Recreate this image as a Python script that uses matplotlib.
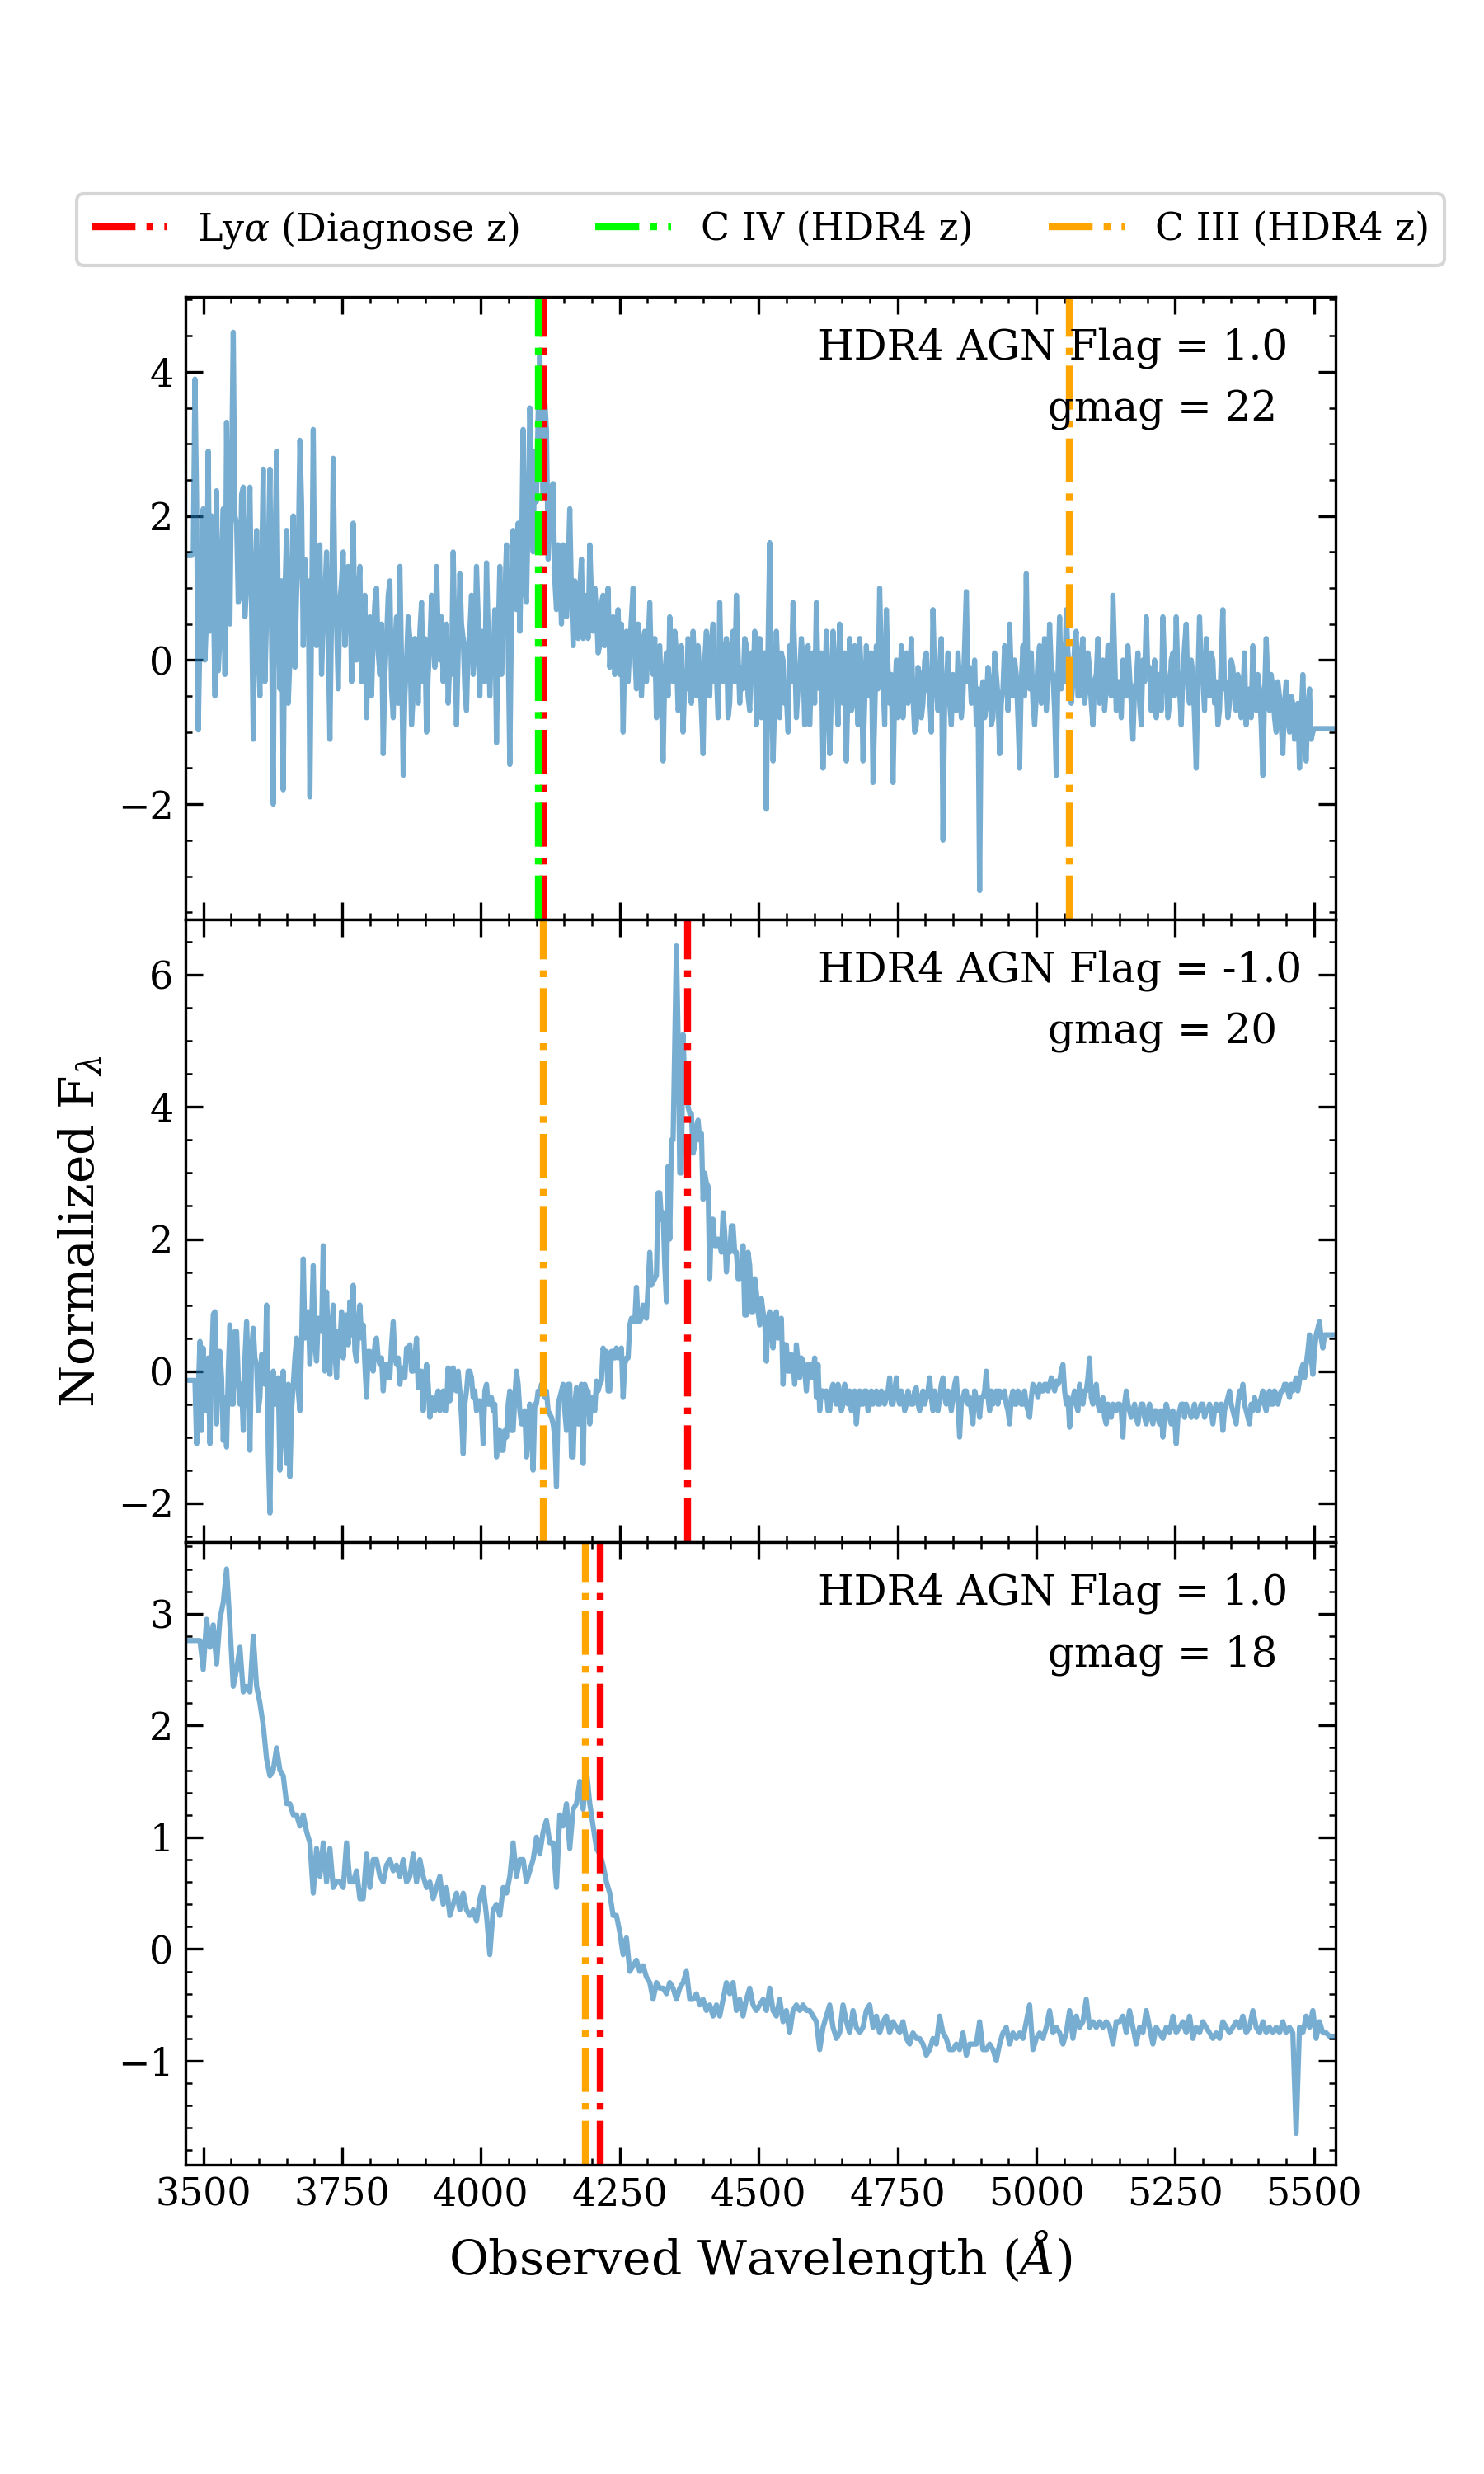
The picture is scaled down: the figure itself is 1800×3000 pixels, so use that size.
import numpy as np
import matplotlib
matplotlib.use("Agg")
import matplotlib.pyplot as plt
from matplotlib.ticker import MultipleLocator, AutoMinorLocator

plt.rcParams['font.family'] = ['DejaVu Serif']
plt.rcParams['mathtext.fontset'] = 'dejavuserif'
plt.rcParams['font.size'] = 11

# ---------------- data: normalized flux, 3470-5540 A ----------------
wave_min, wave_max = 3470.0, 5540.0

# top panel, ~3 A sampling
flux_top = [
    1.45, 1.45, 1.45, 1.45, 1.5, 3.9, 2.2, -0.97, 0.3, 1.4, 2.1, 0.0, 0.6, 2.9, 0.4, 2.0, 1.1, -0.5, 2.35, -0.15,
    0.3, 1.4, 2.1, -0.2, 3.3, 0.9, 0.5, 2.6, 4.55, 2.0, 1.9, 0.8, 0.9, 2.3, 2.4, 0.6, 1.0, 1.7, 2.4, 0.7,
    -1.1, 0.9, 1.8, 0.2, -0.5, 1.2, 2.65, -0.3, 0.6, 1.4, 2.65, 0.3, -2.0, 1.5, 2.9, 0.7, -0.4, 1.1, -1.8, 0.9,
    1.8, -0.6, 0.0, 1.2, 2.0, -0.1, 0.9, 1.5, 3.05, 2.2, 0.2, 1.4, 0.7, 1.1, -1.9, 0.5, 3.2, 0.8, 0.2, 1.3,
    1.6, -0.2, 0.5, 0.9, 1.5, 0.3, -1.1, 0.6, 2.8, 1.0, 0.5, -0.4, 0.8, 1.1, 1.5, 0.2, 0.6, 1.3, 1.2, -0.3,
    1.9, 0.4, 0.0, 0.9, 1.3, -0.3, 0.4, 0.9, -0.8, 0.2, 0.6, -0.5, 0.3, 0.8, 1.0, 0.1, -0.2, 0.5, -1.3, -0.2,
    0.3, 0.9, 1.1, -0.4, -0.8, 0.2, 0.6, -0.6, 1.3, 0.0, -1.6, -0.5, 0.0, 0.6, 0.3, -0.9, -0.5, 0.3, 0.2, -0.6,
    0.4, 0.8, -0.3, 0.3, -1.0, -0.2, 0.2, 0.9, 0.5, -0.1, 1.3, 0.4, 0.0, 0.6, -0.3, 0.2, 0.5, -0.6, 0.0, -0.2,
    1.5, 0.3, -0.9, 0.1, 1.2, 0.5, 0.3, -0.4, -0.7, 0.2, 0.4, 0.9, -0.2, 0.1, 1.3, 0.6, -0.5, 0.4, 0.2, -0.3,
    1.35, 0.4, -0.5, 0.2, 0.0, 0.7, -1.15, 0.3, 1.3, -0.2, 0.5, 0.9, 1.6, 0.2, -1.45, 0.6, 1.8, 1.0, 0.7, 1.9,
    0.4, 1.4, 3.2, 1.0, 0.8, 2.0, 3.5, 2.6, 1.5, 2.9, 2.2, 3.4, 4.3, 3.0, 2.3, 3.6, 3.2, 1.4, 1.9, 2.4,
    2.45, 1.1, 0.7, 1.6, 1.2, 0.5, 1.6, 1.0, 0.6, 1.3, 2.1, 0.9, 0.2, 1.1, 0.8, 0.3, 1.0, 1.4, 0.3, 0.9,
    0.75, 0.3, 1.6, 0.9, 0.4, 1.0, 0.7, 0.1, 0.2, 0.8, 0.9, 0.2, 0.5, 1.0, -0.1, 0.4, 0.6, -0.2, 0.3, 0.7,
    -0.2, 0.5, -1.0, 0.1, 0.4, -0.3, 0.2, 0.6, 1.0, 0.1, -0.4, 0.5, 0.3, -0.5, 0.0, 0.4, -0.3, 0.2, 0.8, -0.1,
    -0.2, 0.3, -0.8, -0.3, 0.2, -0.6, -1.4, -0.2, 0.1, -0.5, 0.6, 0.0, -0.3, 0.4, 0.1, -0.7, -0.6, 0.2, -1.0, -0.3,
    -0.4, 0.3, 0.2, -0.6, 0.4, -0.1, -0.5, 0.2, -0.2, -0.7, -1.3, 0.0, 0.4, -0.4, -0.5, 0.3, 0.5, -0.3, -0.2, -0.8,
    0.8, -0.2, -0.3, 0.1, 0.3, -0.8, -0.6, 0.2, 0.4, -0.3, 0.9, 0.1, -0.6, -0.1, -0.4, 0.3, 0.2, -0.5, -0.7, 0.1,
    -0.3, 0.4, -0.9, -0.2, 0.3, -0.8, -0.5, 0.1, -2.07, 0.2, 1.63, -0.3, -1.4, -0.6, 0.4, -0.2, -0.8, 0.1, 0.0, -0.6,
    -0.5, -1.0, 0.2, -0.3, 0.8, 0.1, -0.8, -0.4, -0.2, 0.3, 0.0, -0.9, -0.5, 0.2, -0.9, -0.3, 0.1, -0.6, 0.8, -0.2,
    -0.4, 0.1, -1.5, -0.6, 0.4, -0.3, -1.3, -0.5, 0.4, 0.0, -0.3, -0.9, 0.5, -0.2, -0.6, 0.1, -1.4, -0.4, 0.3, -0.7,
    -0.6, 0.2, -0.4, -0.9, 0.3, -0.2, -1.4, -0.6, 0.2, -0.3, -0.5, 0.1, -1.7, -0.8, 0.2, -0.4, 1.0, 0.0, -0.3, -0.9,
    0.7, -0.1, -0.6, -0.2, -1.7, -0.5, 0.0, -0.8, -0.5, 0.2, -0.8, -0.3, 0.1, -0.6, -0.2, 0.3, -0.5, -1.0, -0.9, -0.1,
    -0.2, -0.8, -0.6, 0.0, 0.1, -0.4, -0.5, -1.0, 0.7, -0.2, -0.4, -0.7, -0.1, 0.3, -2.5, -0.6, -0.3, 0.1, -0.6, -0.9,
    -0.2, -0.5, -0.7, 0.1, -0.3, -0.8, -0.5, 0.2, 0.95, -0.3, -0.1, -0.6, -0.4, 0.0, -0.9, -0.4, -3.2, -0.5, -0.3, -0.8,
    -0.6, -0.1, -0.3, -0.9, -0.8, 0.1, -0.2, -0.5, -1.3, -0.6, -0.4, 0.2, 0.0, -0.7, 0.5, -0.2, -0.5, 0.0, -0.2, -0.8,
    -1.5, -0.3, 0.2, -0.5, 1.2, -0.2, -0.4, 0.1, -0.6, -0.9, -0.5, 0.0, 0.2, -0.6, -0.2, 0.3, -0.7, -0.3, 0.5, -0.1,
    -0.2, -0.7, -1.6, -0.2, 0.6, -0.4, 0.2, -0.3, 0.7, 0.1, -0.1, -0.6, -0.3, 0.2, 0.4, -0.5, -0.5, 0.1, 0.3, -0.6,
    -0.4, 0.1, -0.1, -0.6, -0.9, -0.3, -0.2, 0.3, -0.6, -0.2, 0.0, -0.7, -0.4, 0.2, 0.2, -0.5, 0.9, 0.1, -0.7, -0.3,
    -0.3, -0.8, 0.0, -0.4, -0.5, 0.2, -0.2, -0.6, -1.1, -0.4, -0.3, 0.1, -0.6, -0.9, 0.0, -0.3, 0.6, -0.2, -0.1, -0.7,
    -0.5, 0.0, -0.8, -0.3, -0.2, -0.7, 0.6, -0.1, -0.3, -0.8, -0.6, 0.0, 0.1, -0.5, 0.6, -0.2, -0.4, -0.9, -0.2, 0.2,
    0.5, -0.4, -0.6, 0.0, -0.2, -0.8, -1.5, -0.3, 0.6, -0.1, -0.3, -0.7, 0.3, -0.2, -0.5, 0.1, 0.0, -0.6, -0.3, -0.9,
    -0.7, 0.0, 0.7, -0.4, -0.3, -0.8, -0.6, 0.0, -0.1, -0.5, -0.7, -0.2, -0.3, -0.8, -0.5, 0.1, -0.9, -0.5, -0.4, -0.8,
    0.2, -0.5, -0.7, -0.2, -0.4, -0.9, -1.6, -0.5, 0.3, -0.3, -0.7, -0.2, -0.4, -0.8, -1.0, -0.3, -0.5, -0.9, -1.3, -0.6,
    -0.3, -0.8, -1.0, -0.5, -0.6, -1.1, -1.0, -0.6, -1.5, -0.8, -0.2, -0.9, -1.4, -0.7, -0.4, -1.1, -1.0, -0.95, -0.95, -0.95,
    -0.95, -0.95, -0.95, -0.95, -0.95, -0.95, -0.95, -0.95, -0.95, -0.95, -0.95,
]

# middle panel, ~3 A sampling
flux_mid = [
    -0.14, -0.14, -0.14, -0.14, -0.14, -0.14, -1.1, -0.3, 0.45, -0.9, 0.35, -0.6, -0.6, 0.2, -1.1, 0.1, 0.86, 0.9, -0.8, 0.3,
    0.3, -0.1, -1.05, -0.4, -1.15, 0.0, 0.7, -0.5, -0.5, 0.6, 0.6, -0.1, -0.5, -0.2, -0.9, 0.2, 0.75, 0.0, -1.2, 0.3,
    0.65, 0.2, 0.1, -0.6, -0.4, 0.25, 0.25, -0.2, 1.0, -1.2, -2.15, -0.4, 0.0, -0.5, -0.5, -0.1, -1.5, -0.6, 0.0, -0.9,
    -1.4, -0.2, -1.6, -0.6, -0.2, 0.2, 0.5, -0.3, -0.6, 0.4, 1.7, 0.5, 0.6, 0.9, 0.1, 0.7, 1.6, 0.4, 0.15, 0.8,
    0.7, 0.6, 1.9, 0.0, 1.2, 0.4, -0.05, 0.6, 1.0, 0.3, -0.1, 0.6, 0.4, 0.9, 0.2, 0.6, 0.85, 0.4, 1.05, 0.55,
    1.3, 0.3, 0.15, 0.7, 1.0, 0.5, 0.7, 0.1, -0.4, 0.3, 0.3, 0.1, 0.0, 0.4, 0.5, 0.2, 0.1, 0.2, -0.3, 0.1,
    0.1, -0.1, -0.1, 0.4, 0.75, 0.2, 0.1, 0.2, -0.2, 0.0, 0.05, -0.1, 0.35, 0.2, 0.4, 0.0, 0.0, 0.2, 0.5, -0.25,
    -0.1, 0.0, -0.6, -0.2, 0.1, -0.2, -0.7, -0.4, -0.5, -0.6, -0.4, -0.3, -0.6, -0.45, -0.3, -0.6, -0.6, 0.05, -0.45, -0.3,
    0.05, -0.2, -0.3, 0.0, -0.3, -0.7, -1.25, -0.5, -0.3, 0.0, 0.0, -0.1, -0.4, -0.3, -0.6, -0.45, -0.45, -0.6, -1.1, -0.3,
    -0.2, -0.5, -0.5, -0.4, -0.6, -0.5, -1.3, -0.9, -0.9, -1.2, -1.2, -0.9, -1.0, -0.5, -0.3, -0.9, -0.9, -0.4, 0.0, -0.2,
    -0.6, -0.8, -0.8, -0.6, -1.3, -1.0, -0.5, -0.9, -1.5, -0.5, -0.5, -0.3, -0.35, -0.2, -0.3, -0.4, -0.3, -0.6, -0.65, -0.7,
    -0.8, -1.0, -1.75, -0.5, -0.4, -0.3, -0.2, -0.6, -0.9, -0.2, -0.2, -1.3, -1.3, -0.5, -0.25, -0.8, -0.8, -0.2, -1.4, -0.2,
    -0.3, -0.3, -0.8, -0.4, -0.5, -0.6, -0.15, -0.3, -0.2, -0.15, 0.35, 0.2, 0.3, -0.3, -0.3, 0.3, 0.3, 0.2, 0.35, 0.2,
    0.3, 0.35, -0.4, 0.1, 0.2, 0.2, 0.7, 0.8, 0.8, 0.75, 1.27, 0.75, 0.75, 0.8, 1.0, 0.85, 0.8, 1.3, 1.8, 1.3,
    1.35, 1.4, 1.45, 2.7, 2.7, 2.3, 2.4, 1.6, 1.05, 3.1, 2.0, 3.5, 3.5, 5.0, 6.44, 5.1, 3.0, 3.0, 5.1, 4.3,
    4.3, 4.0, 3.9, 3.9, 3.3, 3.4, 3.7, 3.8, 3.5, 3.6, 2.6, 3.0, 2.85, 2.8, 1.4, 2.3, 2.3, 1.9, 1.9, 2.0,
    1.9, 1.8, 2.4, 2.1, 1.5, 1.9, 1.8, 2.2, 2.2, 1.8, 1.8, 1.4, 1.4, 1.5, 1.9, 0.85, 0.85, 1.8, 1.6, 0.9,
    0.9, 1.4, 1.2, 0.9, 0.7, 1.1, 0.9, 0.75, 0.15, 0.8, 0.9, 0.6, 0.35, 0.8, 0.9, 0.5, 0.6, 0.8, -0.2, 0.4,
    0.4, 0.0, 0.0, 0.25, 0.1, -0.2, 0.4, 0.15, -0.1, 0.2, 0.15, 0.0, -0.3, 0.1, 0.1, -0.1, 0.0, 0.2, -0.4, 0.1,
    -0.6, -0.3, -0.3, -0.4, -0.3, -0.6, -0.6, -0.3, -0.2, -0.4, -0.5, -0.2, -0.3, -0.6, -0.5, -0.2, -0.4, -0.5, -0.3, -0.6,
    -0.4, -0.3, -0.8, -0.5, -0.3, -0.5, -0.5, -0.3, -0.3, -0.6, -0.5, -0.3, -0.5, -0.4, -0.3, -0.5, -0.5, -0.3, -0.35, -0.5,
    -0.4, -0.3, -0.1, -0.5, -0.5, -0.3, -0.1, -0.4, -0.5, -0.3, -0.4, -0.6, -0.5, -0.3, -0.4, -0.5, -0.5, -0.3, -0.25, -0.5,
    -0.6, -0.4, -0.3, -0.5, -0.4, -0.3, -0.1, -0.4, -0.6, -0.3, -0.5, -0.6, -0.4, -0.2, -0.1, -0.4, -0.5, -0.3, -0.4, -0.6,
    -0.4, -0.2, -0.1, -0.5, -1.0, -0.5, -0.4, -0.3, -0.3, -0.5, -0.4, -0.6, -0.8, -0.3, -0.4, -0.5, -0.7, -0.4, -0.4, -0.3,
    0.0, -0.4, -0.6, -0.3, -0.5, -0.4, -0.3, -0.5, -0.3, -0.4, -0.4, -0.3, -0.5, -0.6, -0.8, -0.4, -0.3, -0.5, -0.5, -0.3,
    -0.35, -0.5, -0.5, -0.3, -0.5, -0.6, -0.7, -0.4, -0.2, -0.3, -0.25, -0.4, -0.2, -0.3, -0.3, -0.2, -0.2, -0.3, -0.2, -0.1,
    -0.2, -0.3, -0.15, -0.2, -0.15, 0.0, 0.1, -0.3, -0.5, -0.4, -0.85, -0.5, -0.4, -0.3, -0.5, -0.6, -0.2, -0.4, -0.5, -0.3,
    -0.3, -0.1, 0.2, -0.4, -0.5, -0.3, -0.2, -0.5, -0.6, -0.5, -0.4, -0.7, -0.8, -0.5, -0.6, -0.7, -0.5, -0.6, -0.6, -0.5,
    -0.5, -0.6, -1.0, -0.5, -0.3, -0.5, -0.6, -0.7, -0.6, -0.5, -0.7, -0.8, -0.6, -0.5, -0.5, -0.7, -0.8, -0.6, -0.5, -0.7,
    -0.8, -0.6, -0.6, -0.7, -0.8, -0.6, -1.0, -0.7, -0.5, -0.6, -0.7, -0.8, -0.6, -0.7, -1.1, -0.7, -0.6, -0.5, -0.5, -0.7,
    -0.5, -0.6, -0.6, -0.7, -0.6, -0.5, -0.7, -0.6, -0.6, -0.5, -0.5, -0.7, -0.6, -0.6, -0.5, -0.6, -0.8, -0.6, -0.5, -0.6,
    -0.6, -0.5, -0.9, -0.6, -0.5, -0.4, -0.3, -0.5, -0.6, -0.7, -0.8, -0.5, -0.3, -0.4, -0.2, -0.5, -0.6, -0.7, -0.8, -0.5,
    -0.6, -0.4, -0.5, -0.6, -0.5, -0.4, -0.3, -0.5, -0.6, -0.4, -0.3, -0.5, -0.5, -0.3, -0.35, -0.5, -0.4, -0.3, -0.3, -0.2,
    -0.2, -0.3, -0.4, -0.2, -0.3, -0.2, -0.1, -0.3, -0.15, 0.0, 0.1, -0.1, 0.1, 0.3, 0.55, 0.2, -0.05, 0.3, 0.55, 0.65,
    0.75, 0.5, 0.35, 0.55, 0.55, 0.55, 0.55, 0.55, 0.55, 0.55, 0.55,
]

# bottom panel, ~6 A sampling
flux_bot = [
    2.76, 2.76, 2.76, 2.76, 2.76, 2.5, 2.95, 2.7, 2.9, 2.55,
    2.95, 3.1, 3.4, 2.9, 2.35, 2.5, 2.7, 2.3, 2.35, 2.3,
    2.8, 2.35, 2.2, 2.0, 1.7, 1.55, 1.6, 1.8, 1.6, 1.55,
    1.3, 1.3, 1.2, 1.2, 1.1, 1.2, 1.05, 0.95, 0.5, 0.9,
    0.65, 0.95, 0.6, 0.9, 0.55, 0.6, 0.6, 0.55, 0.95, 0.6,
    0.6, 0.7, 0.45, 0.45, 0.85, 0.55, 0.8, 0.8, 0.65, 0.6,
    0.75, 0.8, 0.7, 0.75, 0.65, 0.8, 0.6, 0.65, 0.85, 0.6,
    0.8, 0.65, 0.55, 0.6, 0.45, 0.55, 0.65, 0.4, 0.55, 0.3,
    0.4, 0.5, 0.35, 0.5, 0.35, 0.3, 0.35, 0.25, 0.45, 0.55,
    0.3, -0.05, 0.35, 0.4, 0.3, 0.55, 0.5, 0.65, 0.95, 0.65,
    0.8, 0.8, 0.6, 0.7, 0.8, 1.0, 0.85, 1.05, 1.15, 0.95,
    0.95, 0.55, 1.2, 1.1, 1.3, 0.9, 1.25, 1.3, 1.5, 1.25,
    1.6, 1.3, 1.1, 0.9, 0.85, 0.75, 0.6, 0.5, 0.3, 0.3,
    0.15, -0.05, 0.1, -0.2, -0.15, -0.1, -0.2, -0.15, -0.25, -0.3,
    -0.45, -0.3, -0.35, -0.35, -0.4, -0.3, -0.35, -0.45, -0.35, -0.3,
    -0.2, -0.45, -0.45, -0.4, -0.5, -0.45, -0.55, -0.5, -0.6, -0.5,
    -0.6, -0.45, -0.3, -0.4, -0.3, -0.55, -0.45, -0.6, -0.45, -0.35,
    -0.5, -0.55, -0.5, -0.45, -0.55, -0.35, -0.55, -0.6, -0.45, -0.65,
    -0.55, -0.75, -0.55, -0.5, -0.55, -0.5, -0.55, -0.55, -0.6, -0.65,
    -0.9, -0.7, -0.6, -0.5, -0.7, -0.8, -0.75, -0.5, -0.65, -0.75,
    -0.55, -0.7, -0.75, -0.7, -0.55, -0.5, -0.7, -0.6, -0.75, -0.65,
    -0.6, -0.75, -0.65, -0.7, -0.75, -0.65, -0.8, -0.85, -0.75, -0.8,
    -0.8, -0.85, -0.95, -0.9, -0.8, -0.85, -0.6, -0.75, -0.8, -0.9,
    -0.9, -0.85, -0.9, -0.75, -0.95, -0.85, -0.85, -0.85, -0.65, -0.9,
    -0.9, -0.85, -0.9, -1.0, -0.85, -0.75, -0.7, -0.85, -0.75, -0.8,
    -0.75, -0.8, -0.65, -0.5, -0.9, -0.8, -0.75, -0.8, -0.7, -0.55,
    -0.75, -0.7, -0.75, -0.85, -0.75, -0.55, -0.8, -0.6, -0.7, -0.65,
    -0.45, -0.7, -0.65, -0.7, -0.65, -0.7, -0.65, -0.7, -0.85, -0.65,
    -0.65, -0.6, -0.75, -0.55, -0.7, -0.85, -0.7, -0.75, -0.55, -0.7,
    -0.85, -0.7, -0.75, -0.8, -0.7, -0.75, -0.6, -0.75, -0.7, -0.65,
    -0.75, -0.6, -0.8, -0.7, -0.75, -0.65, -0.7, -0.75, -0.8, -0.75,
    -0.8, -0.65, -0.7, -0.75, -0.7, -0.65, -0.7, -0.6, -0.75, -0.7,
    -0.55, -0.7, -0.75, -0.65, -0.75, -0.7, -0.75, -0.7, -0.75, -0.65,
    -0.75, -0.7, -0.75, -1.65, -0.7, -0.75, -0.6, -0.7, -0.55, -0.8,
    -0.65, -0.75, -0.75, -0.78, -0.78, -0.78,
]

spectra = [flux_top, flux_mid, flux_bot]

# observed wavelengths of the marked lines (A)
lya_diag_obs = [4113, 4372, 4215]
civ_hdr4_obs = [4104, 3337, 3398]
ciii_hdr4_obs = [5059, 4113, 4188]

agn_flags = [1.0, -1.0, 1.0]
gmags = [22, 20, 18]

ylims = [(-3.6, 5.04), (-2.59, 6.84), (-1.93, 3.64)]
ymajor = [2, 2, 1]

# ---------------- figure ----------------
fig, axes = plt.subplots(3, 1, figsize=(6, 10), dpi=300, sharex=True)
fig.subplots_adjust(left=0.125, right=0.9, top=0.88, bottom=0.125, hspace=0)

for i, ax in enumerate(axes):
    flux = np.array(spectra[i])
    wave = np.linspace(wave_min, wave_max, len(flux))
    ax.plot(wave, flux, color='tab:blue', alpha=0.6, lw=1.5)
    ax.axvline(lya_diag_obs[i], color='red', ls='-.', lw=2, label=r'Ly$\alpha$ (Diagnose z)')
    ax.axvline(civ_hdr4_obs[i], color='lime', ls='-.', lw=2, label='C IV (HDR4 z)')
    ax.axvline(ciii_hdr4_obs[i], color='orange', ls='-.', lw=2, label='C III (HDR4 z)')
    ax.text(0.55, 0.9, f'HDR4 AGN Flag = {agn_flags[i]:.1f}', transform=ax.transAxes, fontsize=12)
    ax.text(0.75, 0.8, f'gmag = {gmags[i]}', transform=ax.transAxes, fontsize=12)
    ax.set_xlim(3468, 5539)
    ax.set_ylim(*ylims[i])
    ax.xaxis.set_major_locator(MultipleLocator(250))
    ax.xaxis.set_minor_locator(AutoMinorLocator())
    ax.yaxis.set_major_locator(MultipleLocator(ymajor[i]))
    ax.yaxis.set_minor_locator(AutoMinorLocator())
    ax.tick_params(which='both', direction='in', top=True, right=True, labelsize=11)
    ax.tick_params(which='major', length=5)
    ax.tick_params(which='minor', length=2)

axes[0].legend(loc='lower center', bbox_to_anchor=(0.5, 1.02), ncol=3, fontsize=11)
axes[1].set_ylabel(r'Normalized F$_\lambda$', fontsize=14)
axes[2].set_xlabel(r'Observed Wavelength ($\AA$)', fontsize=14)

fig.savefig('out.png', dpi=300)
